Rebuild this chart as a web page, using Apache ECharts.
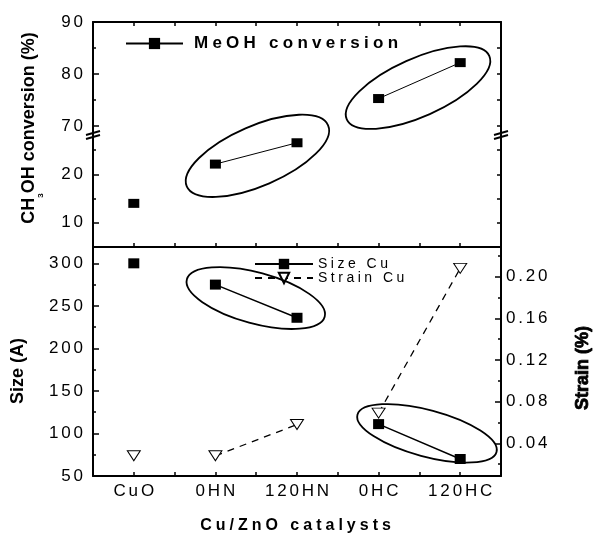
<!DOCTYPE html>
<html><head><meta charset="utf-8">
<script src="https://cdn.jsdelivr.net/npm/echarts@6/dist/echarts.min.js"></script>
<style>html,body{margin:0;padding:0;background:#fff}#c{width:596px;height:537px}</style>
</head><body><div id="c"></div>
<script>
// ---- data ----
const categories = ['CuO', '0HN', '120HN', '0HC', '120HC'];
const meohConversion = [14.0, 22.1, 26.5, 75.3, 82.2];
const sizeCu = [300, 275, 236, 111, 70];
const strainCu = [0.028, 0.028, 0.058, 0.069, 0.208];
const linkedPairs = [[1, 2], [3, 4]];
const topUpperTicks = [70, 80, 90];
const topUpperMinor = [75, 85];
const topLowerTicks = [10, 20];
const topLowerMinor = [15, 25];
const sizeTicks = [50, 100, 150, 200, 250, 300];
const sizeMinor = [75, 125, 175, 225, 275];
const strainTicks = [0.04, 0.08, 0.12, 0.16, 0.20];
const strainMinor = [0.02, 0.06, 0.10, 0.14, 0.18, 0.22];
const breakLow = 28.1, breakHigh = 68.3;

// ---- helpers ----
const FONT = '"Liberation Sans", Arial, Helvetica, sans-serif';
const SP4 = '\u2005', SP6 = '\u2006';
const spaced = (s, sp) => String(s).split('').join(sp);
const linked = (a, b) => linkedPairs.some(p => p[0] === a && p[1] === b);
function lineData(values, keep) {
  const out = []; let prev = -1;
  values.forEach((v, i) => {
    if (!keep(v)) return;
    if (prev >= 0 && !linked(prev, i)) out.push([(prev + i) / 2 + 1, '-']);
    out.push([i + 1, v]); prev = i;
  });
  return out;
}
const BLACK = '#000';
const lineAx = { show: true, onZero: false, lineStyle: { color: BLACK, width: 2 } };
function xAx(grid, pos, labels) {
  return {
    gridIndex: grid, type: 'value', position: pos, min: 0.5, max: 5.5, interval: 0.5,
    axisLine: lineAx, splitLine: { show: false },
    axisTick: { show: true, inside: true, length: 4, lineStyle: { color: BLACK, width: 1.5 } },
    axisLabel: labels ? {
      show: true, margin: 7, color: BLACK, fontSize: 17, fontFamily: FONT,
      formatter: v => Number.isInteger(v) && categories[v - 1] ? spaced(categories[v - 1], SP6) : ''
    } : { show: false }
  };
}
function yAx(grid, pos, min, max, ticks, len, showLine, labels, fmt) {
  return {
    gridIndex: grid, type: 'value', position: pos, min: min, max: max,
    axisLine: showLine ? lineAx : { show: false }, splitLine: { show: false },
    axisTick: { show: true, inside: true, length: len, customValues: ticks, lineStyle: { color: BLACK, width: 1.5 } },
    axisLabel: labels ? {
      show: true, customValues: labels, margin: pos === 'left' ? 10 : 5, color: BLACK, fontSize: 17, fontFamily: FONT,
      formatter: v => spaced(fmt ? fmt(v) : String(v), SP6)
    } : { show: false }
  };
}

const GL = 93, GR = 95, T0 = 22, TB = 135, TD = 247, BOT = 476;

const option = {
  animation: false,
  backgroundColor: '#fff',
  grid: [
    { left: GL, right: GR, top: T0, height: TB - T0 },
    { left: GL, right: GR, top: TB, height: TD - TB },
    { left: GL, right: GR, top: TD, height: BOT - TD }
  ],
  xAxis: [xAx(0, 'top', false), xAx(1, 'bottom', false), xAx(2, 'bottom', true)],
  yAxis: [
    yAx(0, 'left', breakHigh, 90, topUpperTicks, 6, true, topUpperTicks),
    yAx(0, 'left', breakHigh, 90, topUpperMinor, 3, false, null),
    yAx(0, 'right', breakHigh, 90, topUpperTicks.concat(topUpperMinor), 4, true, null),
    yAx(1, 'left', 5, breakLow, topLowerTicks, 6, true, topLowerTicks),
    yAx(1, 'left', 5, breakLow, topLowerMinor, 3, false, null),
    yAx(1, 'right', 5, breakLow, topLowerTicks.concat(topLowerMinor), 4, true, null),
    yAx(2, 'left', 50, 319.2, sizeTicks, 6, true, sizeTicks),
    yAx(2, 'left', 50, 319.2, sizeMinor, 3, false, null),
    yAx(2, 'right', 0.0086, 0.2285, strainTicks, 6, true, strainTicks, v => v.toFixed(2)),
    yAx(2, 'right', 0.0086, 0.2285, strainMinor, 3, false, null)
  ],
  legend: [
    {
      data: ['MeOH conversion'], left: 125, top: 34.5, padding: 0, itemWidth: 57, itemHeight: 14,
      selectedMode: false, formatter: n => spaced(n, SP4),
      textStyle: { fontSize: 17, lineHeight: 18, fontWeight: 'bold', color: BLACK, fontFamily: FONT, padding: [0, 0, 0, 6] }
    },
    {
      data: ['Size Cu', 'Strain Cu'], orient: 'vertical', left: 254, top: 257, padding: 0,
      itemWidth: 58, itemHeight: 13, itemGap: 0, selectedMode: false,
      formatter: n => spaced(n, SP4),
      textStyle: { fontSize: 14, lineHeight: 12, color: BLACK, fontFamily: FONT, padding: [0, 0, 0, 0] }
    }
  ],
  series: [
    {
      name: 'MeOH conversion', type: 'line', xAxisIndex: 1, yAxisIndex: 3,
      data: lineData(meohConversion, v => v < breakLow),
      symbol: 'rect', symbolSize: [11, 9], itemStyle: { color: BLACK },
      lineStyle: { color: BLACK, width: 1 }, connectNulls: false
    },
    {
      name: 'MeOH conversion', type: 'line', xAxisIndex: 0, yAxisIndex: 0,
      data: lineData(meohConversion, v => v > breakHigh),
      symbol: 'rect', symbolSize: [11, 9], itemStyle: { color: BLACK },
      lineStyle: { color: BLACK, width: 1 }, connectNulls: false
    },
    {
      name: 'Size Cu', type: 'line', xAxisIndex: 2, yAxisIndex: 6,
      data: lineData(sizeCu, () => true),
      symbol: 'rect', symbolSize: [11, 10], itemStyle: { color: BLACK },
      lineStyle: { color: BLACK, width: 1.5 }, connectNulls: false, z: 3
    },
    {
      name: 'Strain Cu', type: 'line', xAxisIndex: 2, yAxisIndex: 8,
      data: lineData(strainCu, () => true),
      symbol: 'path://M0,0 L10,0 L5,8 Z', symbolSize: [13, 10], symbolKeepAspect: false,
      itemStyle: { color: '#fff', borderColor: BLACK, borderWidth: 1 },
      lineStyle: { color: BLACK, width: 1.3, type: [7, 6] }, connectNulls: false, z: 2
    }
  ]
};

const chart = echarts.init(document.getElementById('c'), null, { renderer: 'canvas' });
chart.setOption(option);

// ---- annotations (ellipses around paired samples, axis breaks, titles) ----
const ellipses = [
  { at: [2.515, 23.8], axes: [1, 3], rx: 77, ry: 30, rot: 23.4 },
  { at: [4.483, 77.4], axes: [0, 0], rx: 78, ry: 29, rot: 24 },
  { at: [2.495, 259.2], axes: [2, 6], rx: 71.4, ry: 25.5, rot: -15.2 },
  { at: [4.593, 100.2], axes: [2, 6], rx: 72, ry: 23.3, rot: -15 }
];
const g = [];
ellipses.forEach(e => {
  const p = chart.convertToPixel({ xAxisIndex: e.axes[0], yAxisIndex: e.axes[1] }, e.at);
  g.push({
    type: 'ellipse', x: p[0], y: p[1], rotation: e.rot * Math.PI / 180, z: 50,
    shape: { cx: 0, cy: 0, rx: e.rx, ry: e.ry },
    style: { fill: null, stroke: BLACK, lineWidth: 1.8 }
  });
});
[GL, 596 - GR].forEach(x => {
  const y = TB + 0.5;
  g.push({ type: 'line', z: 60, shape: { x1: x - 7, y1: y - 0.5, x2: x + 7, y2: y - 4.5 }, style: { stroke: BLACK, lineWidth: 2 } });
  g.push({ type: 'line', z: 60, shape: { x1: x - 7, y1: y + 3.5, x2: x + 7, y2: y - 0.5 }, style: { stroke: BLACK, lineWidth: 2 } });
});
function txt(x, y, rot, text, extra) {
  return Object.assign({
    type: 'text', x: x, y: y, rotation: rot, z: 60,
    style: Object.assign({
      text: text, fill: BLACK, font: 'bold 18px ' + FONT,
      align: 'center', verticalAlign: 'middle', textAlign: 'center', textVerticalAlign: 'middle'
    }, extra || {})
  });
}
g.push(txt(29, 128, Math.PI / 2, '{a|CH}{s|3}{a|OH conversion (%)}', {
  rich: {
    a: { fontSize: 18, fontWeight: 'bold', fontFamily: FONT, lineHeight: 18, verticalAlign: 'top', fill: BLACK },
    s: { fontSize: 8, fontWeight: 'bold', fontFamily: FONT, lineHeight: 8, padding: [17, 0, 0, 0], verticalAlign: 'top', fill: BLACK }
  }
}));
g.push(txt(18, 371, Math.PI / 2, 'Size (A)'));
g.push(txt(583, 368, Math.PI / 2, 'Strain (%)', { stroke: BLACK, lineWidth: 0.8 }));
g.push(txt(295.5, 526, 0, spaced('Cu/ZnO catalysts', SP4), { font: 'bold 16px ' + FONT }));
chart.setOption({ graphic: { elements: g } });
</script>
</body></html>
